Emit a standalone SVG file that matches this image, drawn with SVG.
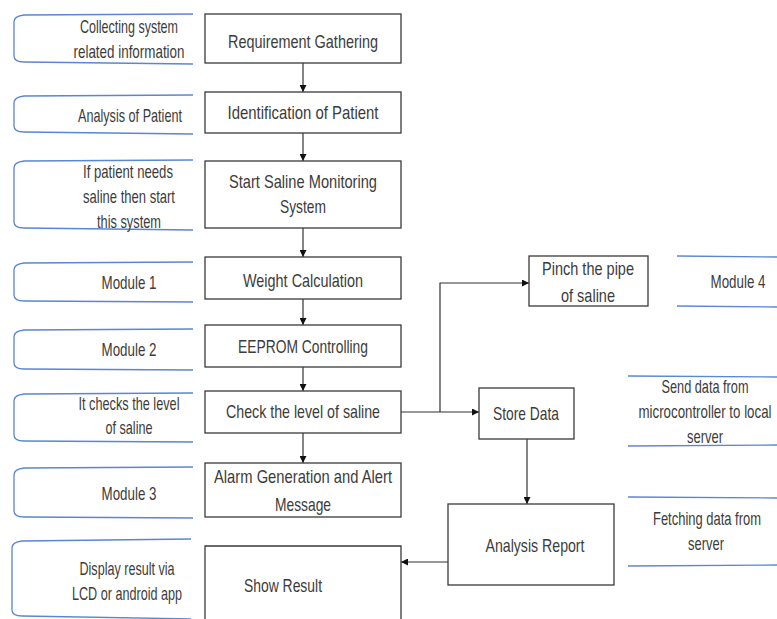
<svg xmlns="http://www.w3.org/2000/svg" width="777" height="619" viewBox="0 0 777 619">
<defs>
<style>
.box{fill:#fff;stroke:#3a3a3a;stroke-width:1.3}
.br{fill:none;stroke:#5b86d3;stroke-width:1.3}
.t{font-family:"Liberation Sans",Arial,sans-serif;font-size:19px;fill:#3c3c3c;text-anchor:middle}
.c{fill:none;stroke:#333;stroke-width:1.2}
</style>
<marker id="ah" viewBox="0 0 10 10" refX="10" refY="5" markerWidth="7" markerHeight="7" markerUnits="userSpaceOnUse" orient="auto">
<path d="M0,0 L10,5 L0,10 z" fill="#111"/>
</marker>
</defs>
<rect width="777" height="619" fill="#fff"/>

<g id="notes">
<g id="note1"><path class="br" d="M193,14 L24,15 Q14,16 14,22 L14,56 Q14,62 24,62 L193,64"/>
<text class="t" x="129" y="33" textLength="98" lengthAdjust="spacingAndGlyphs">Collecting system</text><text class="t" x="129" y="58" textLength="111" lengthAdjust="spacingAndGlyphs">related information</text></g>
<g id="note2"><path class="br" d="M193,95 L24,96 Q14,97 14,103 L14,126 Q14,132 24,132 L193,134"/>
<text class="t" x="130" y="122" textLength="104" lengthAdjust="spacingAndGlyphs">Analysis of Patient</text></g>
<g id="note3"><path class="br" d="M193,160 L24,161 Q14,162 14,168 L14,222 Q14,228 24,228 L193,230"/>
<text class="t" x="128" y="178" textLength="90" lengthAdjust="spacingAndGlyphs">If patient needs</text><text class="t" x="129" y="203" textLength="92" lengthAdjust="spacingAndGlyphs">saline then start</text><text class="t" x="129" y="228" textLength="64" lengthAdjust="spacingAndGlyphs">this system</text></g>
<g id="note4"><path class="br" d="M193,262 L24,263 Q14,264 14,270 L14,295 Q14,301 24,301 L193,302"/>
<text class="t" x="129" y="289" textLength="55" lengthAdjust="spacingAndGlyphs">Module 1</text></g>
<g id="note5"><path class="br" d="M193,329 L24,330 Q14,331 14,337 L14,363 Q14,369 24,369 L193,370"/>
<text class="t" x="129" y="356" textLength="55" lengthAdjust="spacingAndGlyphs">Module 2</text></g>
<g id="note6"><path class="br" d="M193,393 L24,394 Q14,395 14,401 L14,435 Q14,441 24,441 L193,442"/>
<text class="t" x="129" y="410" textLength="101" lengthAdjust="spacingAndGlyphs">It checks the level</text><text class="t" x="129" y="434" textLength="47" lengthAdjust="spacingAndGlyphs">of saline</text></g>
<g id="note7"><path class="br" d="M193,467 L24,468 Q14,469 14,475 L14,511 Q14,517 24,517 L193,518"/>
<text class="t" x="129" y="500" textLength="55" lengthAdjust="spacingAndGlyphs">Module 3</text></g>
<g id="note8"><path class="br" d="M191,539 L22,541 Q12,542 12,548 L12,610 Q12,616 22,616 L191,619"/>
<text class="t" x="127" y="575" textLength="95" lengthAdjust="spacingAndGlyphs">Display result via</text><text class="t" x="127" y="600" textLength="110" lengthAdjust="spacingAndGlyphs">LCD or android app</text></g>
<g id="note9"><path class="br" d="M677,256 L777,257 M677,306 L777,307"/>
<text class="t" x="738" y="288" textLength="55" lengthAdjust="spacingAndGlyphs">Module 4</text></g>
<g id="note10"><path class="br" d="M628,376 L777,377 M628,446 L777,445"/>
<text class="t" x="705" y="393" textLength="87" lengthAdjust="spacingAndGlyphs">Send data from</text><text class="t" x="705" y="418" textLength="133" lengthAdjust="spacingAndGlyphs">microcontroller to local</text><text class="t" x="705" y="443" textLength="36" lengthAdjust="spacingAndGlyphs">server</text></g>
<g id="note11"><path class="br" d="M628,497 L777,498 M628,566 L777,565"/>
<text class="t" x="707" y="525" textLength="108" lengthAdjust="spacingAndGlyphs">Fetching data from</text><text class="t" x="706" y="550" textLength="36" lengthAdjust="spacingAndGlyphs">server</text></g>
</g>

<g id="connectors">
<line class="c" x1="303" y1="63" x2="303" y2="92" marker-end="url(#ah)"/>
<line class="c" x1="303" y1="133" x2="303" y2="161" marker-end="url(#ah)"/>
<line class="c" x1="303" y1="228" x2="303" y2="257" marker-end="url(#ah)"/>
<line class="c" x1="303" y1="299" x2="303" y2="325" marker-end="url(#ah)"/>
<line class="c" x1="303" y1="367" x2="303" y2="391" marker-end="url(#ah)"/>
<line class="c" x1="303" y1="433" x2="303" y2="463" marker-end="url(#ah)"/>
<line class="c" x1="401" y1="412" x2="479" y2="412" marker-end="url(#ah)"/>
<polyline class="c" points="440,412 440,283 529,283" marker-end="url(#ah)"/>
<line class="c" x1="527" y1="439" x2="527" y2="504" marker-end="url(#ah)"/>
<line class="c" x1="448" y1="562" x2="401" y2="562" marker-end="url(#ah)"/>
</g>

<g id="n1"><rect class="box" x="205" y="14" width="196" height="49"/><text class="t" x="303" y="48" textLength="150" lengthAdjust="spacingAndGlyphs">Requirement Gathering</text></g>
<g id="n2"><rect class="box" x="205" y="92" width="196" height="41"/><text class="t" x="303" y="119" textLength="151" lengthAdjust="spacingAndGlyphs">Identification of Patient</text></g>
<g id="n3"><rect class="box" x="205" y="161" width="196" height="67"/><text class="t" x="303" y="188" textLength="148" lengthAdjust="spacingAndGlyphs">Start Saline Monitoring</text><text class="t" x="303" y="213" textLength="46" lengthAdjust="spacingAndGlyphs">System</text></g>
<g id="n4"><rect class="box" x="205" y="257" width="196" height="42"/><text class="t" x="303" y="287" textLength="120" lengthAdjust="spacingAndGlyphs">Weight Calculation</text></g>
<g id="n5"><rect class="box" x="205" y="325" width="196" height="42"/><text class="t" x="303" y="353" textLength="130" lengthAdjust="spacingAndGlyphs">EEPROM Controlling</text></g>
<g id="n6"><rect class="box" x="205" y="391" width="196" height="42"/><text class="t" x="303" y="418" textLength="154" lengthAdjust="spacingAndGlyphs">Check the level of saline</text></g>
<g id="n7"><rect class="box" x="205" y="463" width="196" height="54"/><text class="t" x="303" y="483" textLength="178" lengthAdjust="spacingAndGlyphs">Alarm Generation and Alert</text><text class="t" x="303" y="511" textLength="56" lengthAdjust="spacingAndGlyphs">Message</text></g>
<g id="n8"><path class="box" d="M205,625 L205,546 L401,546 L401,625"/><text class="t" x="283" y="592" textLength="78" lengthAdjust="spacingAndGlyphs">Show Result</text></g>
<g id="n9"><rect class="box" x="529" y="256" width="119" height="50"/><text class="t" x="588" y="275" textLength="92" lengthAdjust="spacingAndGlyphs">Pinch the pipe</text><text class="t" x="588" y="302" textLength="54" lengthAdjust="spacingAndGlyphs">of saline</text></g>
<g id="n10"><rect class="box" x="479" y="388" width="95" height="51"/><text class="t" x="526" y="420" textLength="66" lengthAdjust="spacingAndGlyphs">Store Data</text></g>
<g id="n11"><rect class="box" x="448" y="504" width="166" height="81"/><text class="t" x="535" y="552" textLength="99" lengthAdjust="spacingAndGlyphs">Analysis Report</text></g>
</svg>
